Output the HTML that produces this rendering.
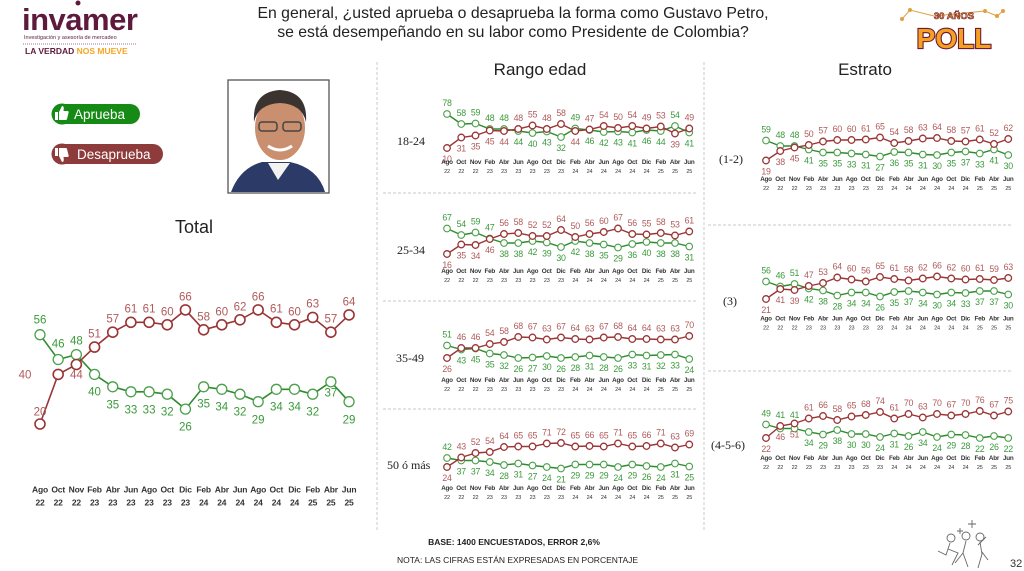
<!DOCTYPE html>
<html><head><meta charset="utf-8"><style>
html,body{margin:0;padding:0;background:#fff;}
svg{display:block;font-family:"Liberation Sans",sans-serif;}
.r{fill:#b05a5a}.g{fill:#3a9a3a}
.lb text{font-size:8.8px;text-anchor:middle;letter-spacing:-0.3px}
.ax text{font-size:6.3px;text-anchor:middle;fill:#333;font-weight:bold;letter-spacing:-0.2px}
.ax text.y{font-size:5.5px;font-weight:normal}
.rl{stroke:#9b3535;stroke-width:1.4;fill:none;marker-start:url(#mr);marker-mid:url(#mr);marker-end:url(#mr)}
.gl{stroke:#2e8b2e;stroke-width:1.4;fill:none;marker-start:url(#mg);marker-mid:url(#mg);marker-end:url(#mg)}
.rL{stroke:#9b3535;stroke-width:1.6;fill:none;marker-start:url(#mR);marker-mid:url(#mR);marker-end:url(#mR)}
.gL{stroke:#2e8b2e;stroke-width:1.6;fill:none;marker-start:url(#mG);marker-mid:url(#mG);marker-end:url(#mG)}
.tl text{font-size:11.5px;text-anchor:middle}
.rowl{font-family:"Liberation Serif",serif;font-size:12px;fill:#222}
.dash{stroke:#c8c8c8;stroke-width:1;stroke-dasharray:3 2}
</style></head><body>
<svg width="1024" height="571" viewBox="0 0 1024 571" xmlns="http://www.w3.org/2000/svg">
<defs>
<marker id="mr" markerWidth="10" markerHeight="10" refX="5" refY="5" markerUnits="userSpaceOnUse"><circle cx="5" cy="5" r="3.3" fill="#fff" stroke="#9b3535" stroke-width="1.3"/></marker>
<marker id="mg" markerWidth="10" markerHeight="10" refX="5" refY="5" markerUnits="userSpaceOnUse"><circle cx="5" cy="5" r="3.3" fill="#fff" stroke="#4aa04a" stroke-width="1.1"/></marker>
<marker id="mR" markerWidth="14" markerHeight="14" refX="7" refY="7" markerUnits="userSpaceOnUse"><circle cx="7" cy="7" r="5" fill="#fff" stroke="#9b3535" stroke-width="1.6"/></marker>
<marker id="mG" markerWidth="14" markerHeight="14" refX="7" refY="7" markerUnits="userSpaceOnUse"><circle cx="7" cy="7" r="5" fill="#fff" stroke="#4aa04a" stroke-width="1.3"/></marker>
<g id="axs" class="ax">
<text x="0" y="11">Ago</text><text x="14.25" y="11">Oct</text><text x="28.5" y="11">Nov</text><text x="42.75" y="11">Feb</text><text x="57" y="11">Abr</text><text x="71.25" y="11">Jun</text><text x="85.5" y="11">Ago</text><text x="99.75" y="11">Oct</text><text x="114" y="11">Dic</text><text x="128.25" y="11">Feb</text><text x="142.5" y="11">Abr</text><text x="156.75" y="11">Jun</text><text x="171" y="11">Ago</text><text x="185.25" y="11">Oct</text><text x="199.5" y="11">Dic</text><text x="213.75" y="11">Feb</text><text x="228" y="11">Abr</text><text x="242.25" y="11">Jun</text>
<text class="y" x="0" y="20">22</text><text class="y" x="14.25" y="20">22</text><text class="y" x="28.5" y="20">22</text><text class="y" x="42.75" y="20">23</text><text class="y" x="57" y="20">23</text><text class="y" x="71.25" y="20">23</text><text class="y" x="85.5" y="20">23</text><text class="y" x="99.75" y="20">23</text><text class="y" x="114" y="20">23</text><text class="y" x="128.25" y="20">24</text><text class="y" x="142.5" y="20">24</text><text class="y" x="156.75" y="20">24</text><text class="y" x="171" y="20">24</text><text class="y" x="185.25" y="20">24</text><text class="y" x="199.5" y="20">24</text><text class="y" x="213.75" y="20">25</text><text class="y" x="228" y="20">25</text><text class="y" x="242.25" y="20">25</text>
</g>
</defs>

<text x="22" y="30" font-size="31" font-weight="bold" fill="#5e1a3c" letter-spacing="-0.5">invamer</text>
<circle cx="78" cy="3" r="2.5" fill="#5e1a3c"/>
<text x="24" y="39" font-size="5.5" fill="#5e1a3c">Investigación y asesoría de mercadeo</text>
<line x1="23" y1="44" x2="137" y2="44" stroke="#8a4a6a" stroke-width="0.8" stroke-dasharray="1 1"/>
<text x="25" y="54" font-size="8.5" font-weight="bold" fill="#5e1a3c">LA VERDAD <tspan fill="#f5a623">NOS MUEVE</tspan></text>

<text x="513" y="18" font-size="15.8" text-anchor="middle" fill="#222">En general, ¿usted aprueba o desaprueba la forma como Gustavo Petro,</text>
<text x="513" y="37" font-size="15.8" text-anchor="middle" fill="#222">se está desempeñando en su labor como Presidente de Colombia?</text>

<polyline points="902,19 910,10 934,16 985,11 997,16 1003,11" fill="none" stroke="#e0a040" stroke-width="1"/>
<circle cx="902" cy="19" r="2" fill="#e0a040"/><circle cx="910" cy="10" r="2" fill="#e0a040"/><circle cx="985" cy="11" r="2" fill="#e0a040"/><circle cx="997" cy="16" r="2" fill="#e0a040"/><circle cx="1003" cy="11" r="2" fill="#e0a040"/>
<text x="954" y="19" font-size="9.5" font-weight="bold" text-anchor="middle" fill="#f5a020" stroke="#6a1b3a" stroke-width="0.6">30 AÑOS</text>
<text x="954" y="48" font-size="28" font-weight="bold" text-anchor="middle" fill="#f5a020" stroke="#6a1b3a" stroke-width="2.2" paint-order="stroke">POLL</text>

<rect x="52" y="104" width="88" height="20" rx="10" fill="#158a15"/>
<circle cx="62" cy="114" r="10.5" fill="#158a15"/>
<path d="M55 112h3v8h-3z M59 112l3-6c2 0 2 2 1.5 5h4c1 0 1.5 1 1 2l-1.5 6c-.3 1-1 1-2 1h-6z" fill="#fff"/>
<text x="74" y="119" font-size="13.5" fill="#fff">Aprueba</text>
<rect x="52" y="144" width="111" height="20" rx="10" fill="#8e3b3b"/>
<circle cx="62" cy="154" r="10.5" fill="#8e3b3b"/>
<path d="M55 148h3v8h-3z M59 156l3 6c2 0 2-2 1.5-5h4c1 0 1.5-1 1-2l-1.5-6c-.3-1-1-1-2-1h-6z" fill="#fff"/>
<text x="77" y="159" font-size="13.5" fill="#fff">Desaprueba</text>

<rect x="228" y="80" width="101" height="113" fill="#fff" stroke="#555" stroke-width="1.3"/>
<path d="M231 192 Q240 168 262 162 L290 162 Q318 168 325 192 Z" fill="#2b3a66"/>
<path d="M268 163 L278 180 L290 163 Z" fill="#f2f2f2"/>
<ellipse cx="280" cy="128" rx="25" ry="32" fill="#c98f6e"/>
<path d="M254 122 Q252 92 280 90 Q308 92 306 122 Q302 104 280 103 Q258 104 254 122 Z" fill="#3a3330"/>
<rect x="259" y="122" width="18" height="9" rx="3" fill="none" stroke="#444" stroke-width="1.5"/>
<rect x="283" y="122" width="18" height="9" rx="3" fill="none" stroke="#444" stroke-width="1.5"/>
<path d="M268 146 Q280 154 292 146" stroke="#fff" stroke-width="3" fill="none"/>

<text x="194" y="233" font-size="18" text-anchor="middle" fill="#222">Total</text>
<text x="540" y="75" font-size="17" text-anchor="middle" fill="#222">Rango edad</text>
<text x="865" y="75" font-size="17" text-anchor="middle" fill="#222">Estrato</text>

<line class="dash" x1="377" y1="62" x2="377" y2="532"/>
<line class="dash" x1="704" y1="62" x2="704" y2="532"/>
<line class="dash" x1="383" y1="193" x2="697" y2="193"/>
<line class="dash" x1="383" y1="301" x2="697" y2="301"/>
<line class="dash" x1="383" y1="409" x2="697" y2="409"/>
<line class="dash" x1="708" y1="225" x2="1012" y2="225"/>
<line class="dash" x1="708" y1="371" x2="1012" y2="371"/>

<g transform="translate(40,473.6)">
<polyline class="gL" points="0,-138.9 18.18,-114.1 36.36,-119 54.54,-99.2 72.72,-86.8 90.9,-81.8 109.08,-81.8 127.26,-79.4 145.44,-64.5 163.62,-86.8 181.8,-84.3 199.98,-79.4 218.16,-71.9 236.34,-84.3 254.52,-84.3 272.7,-79.4 290.88,-91.8 309.06,-71.9"/>
<polyline class="rL" points="0,-49.6 18.18,-99.2 36.36,-109.1 54.54,-126.5 72.72,-141.4 90.9,-151.3 109.08,-151.3 127.26,-148.8 145.44,-163.7 163.62,-143.8 181.8,-148.8 199.98,-153.8 218.16,-163.7 236.34,-151.3 254.52,-148.8 272.7,-156.2 290.88,-141.4 309.06,-158.7"/>
<g class="tl">
<text class="r" x="0" y="-58">20</text><text class="r" x="-15" y="-95">40</text><text class="r" x="36.36" y="-95">44</text><text class="r" x="54.54" y="-136">51</text><text class="r" x="72.72" y="-151">57</text><text class="r" x="90.9" y="-161">61</text><text class="r" x="109.08" y="-161">61</text><text class="r" x="127.26" y="-158">60</text><text class="r" x="145.44" y="-173">66</text><text class="r" x="163.62" y="-153">58</text><text class="r" x="181.8" y="-158">60</text><text class="r" x="199.98" y="-163">62</text><text class="r" x="218.16" y="-173">66</text><text class="r" x="236.34" y="-161">61</text><text class="r" x="254.52" y="-158">60</text><text class="r" x="272.7" y="-166">63</text><text class="r" x="290.88" y="-151">57</text><text class="r" x="309.06" y="-168">64</text>
<text class="g" x="0" y="-150">56</text><text class="g" x="18.18" y="-126">46</text><text class="g" x="36.36" y="-129">48</text><text class="g" x="54.54" y="-78">40</text><text class="g" x="72.72" y="-65">35</text><text class="g" x="90.9" y="-60">33</text><text class="g" x="109.08" y="-60">33</text><text class="g" x="127.26" y="-58">32</text><text class="g" x="145.44" y="-43">26</text><text class="g" x="163.62" y="-66">35</text><text class="g" x="181.8" y="-63">34</text><text class="g" x="199.98" y="-58">32</text><text class="g" x="218.16" y="-50">29</text><text class="g" x="236.34" y="-63">34</text><text class="g" x="254.52" y="-63">34</text><text class="g" x="272.7" y="-58">32</text><text class="g" x="290.88" y="-77">37</text><text class="g" x="309.06" y="-50">29</text>
</g>
<g class="ax">
<text x="0" y="19" style="font-size:8.5px">Ago</text><text x="18.18" y="19" style="font-size:8.5px">Oct</text><text x="36.36" y="19" style="font-size:8.5px">Nov</text><text x="54.54" y="19" style="font-size:8.5px">Feb</text><text x="72.72" y="19" style="font-size:8.5px">Abr</text><text x="90.9" y="19" style="font-size:8.5px">Jun</text><text x="109.08" y="19" style="font-size:8.5px">Ago</text><text x="127.26" y="19" style="font-size:8.5px">Oct</text><text x="145.44" y="19" style="font-size:8.5px">Dic</text><text x="163.62" y="19" style="font-size:8.5px">Feb</text><text x="181.8" y="19" style="font-size:8.5px">Abr</text><text x="199.98" y="19" style="font-size:8.5px">Jun</text><text x="218.16" y="19" style="font-size:8.5px">Ago</text><text x="236.34" y="19" style="font-size:8.5px">Oct</text><text x="254.52" y="19" style="font-size:8.5px">Dic</text><text x="272.7" y="19" style="font-size:8.5px">Feb</text><text x="290.88" y="19" style="font-size:8.5px">Abr</text><text x="309.06" y="19" style="font-size:8.5px">Jun</text>
<text x="0" y="32" style="font-size:8.5px">22</text><text x="18.18" y="32" style="font-size:8.5px">22</text><text x="36.36" y="32" style="font-size:8.5px">22</text><text x="54.54" y="32" style="font-size:8.5px">23</text><text x="72.72" y="32" style="font-size:8.5px">23</text><text x="90.9" y="32" style="font-size:8.5px">23</text><text x="109.08" y="32" style="font-size:8.5px">23</text><text x="127.26" y="32" style="font-size:8.5px">23</text><text x="145.44" y="32" style="font-size:8.5px">23</text><text x="163.62" y="32" style="font-size:8.5px">24</text><text x="181.8" y="32" style="font-size:8.5px">24</text><text x="199.98" y="32" style="font-size:8.5px">24</text><text x="218.16" y="32" style="font-size:8.5px">24</text><text x="236.34" y="32" style="font-size:8.5px">24</text><text x="254.52" y="32" style="font-size:8.5px">24</text><text x="272.7" y="32" style="font-size:8.5px">25</text><text x="290.88" y="32" style="font-size:8.5px">25</text><text x="309.06" y="32" style="font-size:8.5px">25</text>
</g>
</g>

<text class="rowl" x="397" y="145">18-24</text>
<text class="rowl" x="397" y="254">25-34</text>
<text class="rowl" x="396" y="362">35-49</text>
<text class="rowl" x="387" y="469">50 ó más</text>
<text class="rowl" x="719" y="163">(1-2)</text>
<text class="rowl" x="723" y="305">(3)</text>
<text class="rowl" x="711" y="449">(4-5-6)</text>

<g transform="translate(447,153)">
<polyline class="gl" points="0,-39 14.25,-29 28.5,-29.5 42.75,-24 57,-24 71.25,-22 85.5,-20 99.75,-21.5 114,-16 128.25,-24.5 142.5,-23 156.75,-21 171,-21.5 185.25,-20.5 199.5,-23 213.75,-22 228,-27 242.25,-20.5"/>
<polyline class="rl" points="0,-5 14.25,-15.5 28.5,-17.5 42.75,-22.5 57,-22 71.25,-24 85.5,-27.5 99.75,-24 114,-29 128.25,-22 142.5,-23.5 156.75,-27 171,-25 185.25,-27 199.5,-24.5 213.75,-26.5 228,-19.5 242.25,-24.5"/>
<g class="lb">
<text class="g" x="0" y="-47">78</text><text class="r" x="0" y="9">10</text>
<text class="g" x="14.25" y="-37">58</text><text class="r" x="14.25" y="-1.5">31</text>
<text class="g" x="28.5" y="-37.5">59</text><text class="r" x="28.5" y="-3.5">35</text>
<text class="g" x="42.75" y="-32">48</text><text class="r" x="42.75" y="-8.5">45</text>
<text class="g" x="57" y="-32">48</text><text class="r" x="57" y="-8">44</text>
<text class="r" x="71.25" y="-32">48</text><text class="g" x="71.25" y="-8">44</text>
<text class="r" x="85.5" y="-35.5">55</text><text class="g" x="85.5" y="-6">40</text>
<text class="r" x="99.75" y="-32">48</text><text class="g" x="99.75" y="-7.5">43</text>
<text class="r" x="114" y="-37">58</text><text class="g" x="114" y="-2">32</text>
<text class="g" x="128.25" y="-32.5">49</text><text class="r" x="128.25" y="-8">44</text>
<text class="r" x="142.5" y="-31.5">47</text><text class="g" x="142.5" y="-9">46</text>
<text class="r" x="156.75" y="-35">54</text><text class="g" x="156.75" y="-7">42</text>
<text class="r" x="171" y="-33">50</text><text class="g" x="171" y="-7.5">43</text>
<text class="r" x="185.25" y="-35">54</text><text class="g" x="185.25" y="-6.5">41</text>
<text class="r" x="199.5" y="-32.5">49</text><text class="g" x="199.5" y="-9">46</text>
<text class="r" x="213.75" y="-34.5">53</text><text class="g" x="213.75" y="-8">44</text>
<text class="g" x="228" y="-35">54</text><text class="r" x="228" y="-5.5">39</text>
<text class="r" x="242.25" y="-32.5">49</text><text class="g" x="242.25" y="-6.5">41</text>
</g>
<use href="#axs"/>
</g>

<g transform="translate(447,262)">
<polyline class="gl" points="0,-33.5 14.25,-27 28.5,-29.5 42.75,-23.5 57,-19 71.25,-19 85.5,-21 99.75,-19.5 114,-15 128.25,-21 142.5,-19 156.75,-17.5 171,-14.5 185.25,-18 199.5,-20 213.75,-19 228,-19 242.25,-15.5"/>
<polyline class="rl" points="0,-8 14.25,-17.5 28.5,-17 42.75,-23 57,-28 71.25,-29 85.5,-26 99.75,-26 114,-32 128.25,-25 142.5,-28 156.75,-30 171,-33.5 185.25,-28 199.5,-27.5 213.75,-29 228,-26.5 242.25,-30.5"/>
<g class="lb">
<text class="g" x="0" y="-41.5">67</text><text class="r" x="0" y="6">16</text>
<text class="g" x="14.25" y="-35">54</text><text class="r" x="14.25" y="-3.5">35</text>
<text class="g" x="28.5" y="-37.5">59</text><text class="r" x="28.5" y="-3">34</text>
<text class="g" x="42.75" y="-31.5">47</text><text class="r" x="42.75" y="-9">46</text>
<text class="r" x="57" y="-36">56</text><text class="g" x="57" y="-5">38</text>
<text class="r" x="71.25" y="-37">58</text><text class="g" x="71.25" y="-5">38</text>
<text class="r" x="85.5" y="-34">52</text><text class="g" x="85.5" y="-7">42</text>
<text class="r" x="99.75" y="-34">52</text><text class="g" x="99.75" y="-5.5">39</text>
<text class="r" x="114" y="-40">64</text><text class="g" x="114" y="-1">30</text>
<text class="r" x="128.25" y="-33">50</text><text class="g" x="128.25" y="-7">42</text>
<text class="r" x="142.5" y="-36">56</text><text class="g" x="142.5" y="-5">38</text>
<text class="r" x="156.75" y="-38">60</text><text class="g" x="156.75" y="-3.5">35</text>
<text class="r" x="171" y="-41.5">67</text><text class="g" x="171" y="-0.5">29</text>
<text class="r" x="185.25" y="-36">56</text><text class="g" x="185.25" y="-4">36</text>
<text class="r" x="199.5" y="-35.5">55</text><text class="g" x="199.5" y="-6">40</text>
<text class="r" x="213.75" y="-37">58</text><text class="g" x="213.75" y="-5">38</text>
<text class="r" x="228" y="-34.5">53</text><text class="g" x="228" y="-5">38</text>
<text class="r" x="242.25" y="-38.5">61</text><text class="g" x="242.25" y="-1.5">31</text>
</g>
<use href="#axs"/>
</g>

<g transform="translate(447,371)">
<polyline class="gl" points="0,-25.5 14.25,-21.5 28.5,-22.5 42.75,-17.5 57,-16 71.25,-13 85.5,-13.5 99.75,-15 114,-13 128.25,-14 142.5,-15.5 156.75,-14 171,-13 185.25,-16.5 199.5,-15.5 213.75,-16 228,-16.5 242.25,-12"/>
<polyline class="rl" points="0,-13 14.25,-23 28.5,-23 42.75,-27 57,-29 71.25,-34 85.5,-33.5 99.75,-31.5 114,-33.5 128.25,-32 142.5,-31.5 156.75,-33.5 171,-34 185.25,-32 199.5,-32 213.75,-31.5 228,-31.5 242.25,-35"/>
<g class="lb">
<text class="g" x="0" y="-33.5">51</text><text class="r" x="0" y="1">26</text>
<text class="r" x="14.25" y="-31">46</text><text class="g" x="14.25" y="-7.5">43</text>
<text class="r" x="28.5" y="-31">46</text><text class="g" x="28.5" y="-8.5">45</text>
<text class="r" x="42.75" y="-35">54</text><text class="g" x="42.75" y="-3.5">35</text>
<text class="r" x="57" y="-37">58</text><text class="g" x="57" y="-2">32</text>
<text class="r" x="71.25" y="-42">68</text><text class="g" x="71.25" y="1">26</text>
<text class="r" x="85.5" y="-41.5">67</text><text class="g" x="85.5" y="0.5">27</text>
<text class="r" x="99.75" y="-39.5">63</text><text class="g" x="99.75" y="-1">30</text>
<text class="r" x="114" y="-41.5">67</text><text class="g" x="114" y="1">26</text>
<text class="r" x="128.25" y="-40">64</text><text class="g" x="128.25" y="0">28</text>
<text class="r" x="142.5" y="-39.5">63</text><text class="g" x="142.5" y="-1.5">31</text>
<text class="r" x="156.75" y="-41.5">67</text><text class="g" x="156.75" y="0">28</text>
<text class="r" x="171" y="-42">68</text><text class="g" x="171" y="1">26</text>
<text class="r" x="185.25" y="-40">64</text><text class="g" x="185.25" y="-2.5">33</text>
<text class="r" x="199.5" y="-40">64</text><text class="g" x="199.5" y="-1.5">31</text>
<text class="r" x="213.75" y="-39.5">63</text><text class="g" x="213.75" y="-2">32</text>
<text class="r" x="228" y="-39.5">63</text><text class="g" x="228" y="-2.5">33</text>
<text class="r" x="242.25" y="-43">70</text><text class="g" x="242.25" y="2">24</text>
</g>
<use href="#axs"/>
</g>

<g transform="translate(447,479)">
<polyline class="gl" points="0,-21 14.25,-18.5 28.5,-18.5 42.75,-17 57,-14 71.25,-15.5 85.5,-13.5 99.75,-12 114,-10.5 128.25,-14.5 142.5,-14.5 156.75,-14.5 171,-12 185.25,-14.5 199.5,-13 213.75,-12 228,-15.5 242.25,-12.5"/>
<polyline class="rl" points="0,-12 14.25,-21.5 28.5,-26 42.75,-27 57,-32 71.25,-32.5 85.5,-32.5 99.75,-35.5 114,-36 128.25,-32.5 142.5,-33 156.75,-32.5 171,-35.5 185.25,-32.5 199.5,-33 213.75,-35.5 228,-31.5 242.25,-34.5"/>
<g class="lb">
<text class="g" x="0" y="-29">42</text><text class="r" x="0" y="2">24</text>
<text class="r" x="14.25" y="-29.5">43</text><text class="g" x="14.25" y="-4.5">37</text>
<text class="r" x="28.5" y="-34">52</text><text class="g" x="28.5" y="-4.5">37</text>
<text class="r" x="42.75" y="-35">54</text><text class="g" x="42.75" y="-3">34</text>
<text class="r" x="57" y="-40">64</text><text class="g" x="57" y="0">28</text>
<text class="r" x="71.25" y="-40.5">65</text><text class="g" x="71.25" y="-1.5">31</text>
<text class="r" x="85.5" y="-40.5">65</text><text class="g" x="85.5" y="0.5">27</text>
<text class="r" x="99.75" y="-43.5">71</text><text class="g" x="99.75" y="2">24</text>
<text class="r" x="114" y="-44">72</text><text class="g" x="114" y="3.5">21</text>
<text class="r" x="128.25" y="-40.5">65</text><text class="g" x="128.25" y="-0.5">29</text>
<text class="r" x="142.5" y="-41">66</text><text class="g" x="142.5" y="-0.5">29</text>
<text class="r" x="156.75" y="-40.5">65</text><text class="g" x="156.75" y="-0.5">29</text>
<text class="r" x="171" y="-43.5">71</text><text class="g" x="171" y="2">24</text>
<text class="r" x="185.25" y="-40.5">65</text><text class="g" x="185.25" y="-0.5">29</text>
<text class="r" x="199.5" y="-41">66</text><text class="g" x="199.5" y="1">26</text>
<text class="r" x="213.75" y="-43.5">71</text><text class="g" x="213.75" y="2">24</text>
<text class="r" x="228" y="-39.5">63</text><text class="g" x="228" y="-1.5">31</text>
<text class="r" x="242.25" y="-42.5">69</text><text class="g" x="242.25" y="1.5">25</text>
</g>
<use href="#axs"/>
</g>

<g transform="translate(766,170)">
<polyline class="gl" points="0,-29.5 14.25,-24 28.5,-24 42.75,-20.5 57,-17.5 71.25,-17.5 85.5,-16.5 99.75,-15.5 114,-13.5 128.25,-18 142.5,-17.5 156.75,-15.5 171,-15 185.25,-17.5 199.5,-18.5 213.75,-16.5 228,-20.5 242.25,-15"/>
<polyline class="rl" points="0,-9.5 14.25,-19 28.5,-22.5 42.75,-25 57,-28.5 71.25,-30 85.5,-30 99.75,-30.5 114,-32.5 128.25,-27 142.5,-29 156.75,-31.5 171,-32 185.25,-29 199.5,-28.5 213.75,-30.5 228,-26 242.25,-31"/>
<g class="lb">
<text class="g" x="0" y="-37.5">59</text><text class="r" x="0" y="4.5">19</text>
<text class="g" x="14.25" y="-32">48</text><text class="r" x="14.25" y="-5">38</text>
<text class="g" x="28.5" y="-32">48</text><text class="r" x="28.5" y="-8.5">45</text>
<text class="r" x="42.75" y="-33">50</text><text class="g" x="42.75" y="-6.5">41</text>
<text class="r" x="57" y="-36.5">57</text><text class="g" x="57" y="-3.5">35</text>
<text class="r" x="71.25" y="-38">60</text><text class="g" x="71.25" y="-3.5">35</text>
<text class="r" x="85.5" y="-38">60</text><text class="g" x="85.5" y="-2.5">33</text>
<text class="r" x="99.75" y="-38.5">61</text><text class="g" x="99.75" y="-1.5">31</text>
<text class="r" x="114" y="-40.5">65</text><text class="g" x="114" y="0.5">27</text>
<text class="r" x="128.25" y="-35">54</text><text class="g" x="128.25" y="-4">36</text>
<text class="r" x="142.5" y="-37">58</text><text class="g" x="142.5" y="-3.5">35</text>
<text class="r" x="156.75" y="-39.5">63</text><text class="g" x="156.75" y="-1.5">31</text>
<text class="r" x="171" y="-40">64</text><text class="g" x="171" y="-1">30</text>
<text class="r" x="185.25" y="-37">58</text><text class="g" x="185.25" y="-3.5">35</text>
<text class="r" x="199.5" y="-36.5">57</text><text class="g" x="199.5" y="-4.5">37</text>
<text class="r" x="213.75" y="-38.5">61</text><text class="g" x="213.75" y="-2.5">33</text>
<text class="r" x="228" y="-34">52</text><text class="g" x="228" y="-6.5">41</text>
<text class="r" x="242.25" y="-39">62</text><text class="g" x="242.25" y="-1">30</text>
</g>
<use href="#axs"/>
</g>

<g transform="translate(766,309.5)">
<polyline class="gl" points="0,-28 14.25,-23 28.5,-25.5 42.75,-21 57,-19 71.25,-14 85.5,-17 99.75,-17 114,-13 128.25,-17.5 142.5,-18.5 156.75,-17 171,-15 185.25,-17 199.5,-16.5 213.75,-18.5 228,-18.5 242.25,-15"/>
<polyline class="rl" points="0,-10.5 14.25,-20.5 28.5,-19.5 42.75,-23.5 57,-26.5 71.25,-32 85.5,-30 99.75,-28 114,-32.5 128.25,-30.5 142.5,-29 156.75,-31 171,-33 185.25,-31 199.5,-30 213.75,-30.5 228,-29.5 242.25,-31.5"/>
<g class="lb">
<text class="g" x="0" y="-36">56</text><text class="r" x="0" y="3.5">21</text>
<text class="g" x="14.25" y="-31">46</text><text class="r" x="14.25" y="-6.5">41</text>
<text class="g" x="28.5" y="-33.5">51</text><text class="r" x="28.5" y="-5.5">39</text>
<text class="r" x="42.75" y="-31.5">47</text><text class="g" x="42.75" y="-7">42</text>
<text class="r" x="57" y="-34.5">53</text><text class="g" x="57" y="-5">38</text>
<text class="r" x="71.25" y="-40">64</text><text class="g" x="71.25" y="0">28</text>
<text class="r" x="85.5" y="-38">60</text><text class="g" x="85.5" y="-3">34</text>
<text class="r" x="99.75" y="-36">56</text><text class="g" x="99.75" y="-3">34</text>
<text class="r" x="114" y="-40.5">65</text><text class="g" x="114" y="1">26</text>
<text class="r" x="128.25" y="-38.5">61</text><text class="g" x="128.25" y="-3.5">35</text>
<text class="r" x="142.5" y="-37">58</text><text class="g" x="142.5" y="-4.5">37</text>
<text class="r" x="156.75" y="-39">62</text><text class="g" x="156.75" y="-3">34</text>
<text class="r" x="171" y="-41">66</text><text class="g" x="171" y="-1">30</text>
<text class="r" x="185.25" y="-39">62</text><text class="g" x="185.25" y="-3">34</text>
<text class="r" x="199.5" y="-38">60</text><text class="g" x="199.5" y="-2.5">33</text>
<text class="r" x="213.75" y="-38.5">61</text><text class="g" x="213.75" y="-4.5">37</text>
<text class="r" x="228" y="-37.5">59</text><text class="g" x="228" y="-4.5">37</text>
<text class="r" x="242.25" y="-39.5">63</text><text class="g" x="242.25" y="-1">30</text>
</g>
<use href="#axs"/>
</g>

<g transform="translate(766,449)">
<polyline class="gl" points="0,-24.5 14.25,-20.5 28.5,-20.5 42.75,-17 57,-14.5 71.25,-19 85.5,-15 99.75,-15 114,-12 128.25,-15.5 142.5,-13 156.75,-17 171,-12 185.25,-14.5 199.5,-14 213.75,-11 228,-13 242.25,-11"/>
<polyline class="rl" points="0,-11 14.25,-23 28.5,-25.5 42.75,-30.5 57,-33 71.25,-29 85.5,-32.5 99.75,-34 114,-37 128.25,-30.5 142.5,-35 156.75,-31.5 171,-35 185.25,-33.5 199.5,-35 213.75,-38 228,-33.5 242.25,-37.5"/>
<g class="lb">
<text class="g" x="0" y="-32.5">49</text><text class="r" x="0" y="3">22</text>
<text class="g" x="14.25" y="-31">41</text><text class="r" x="14.25" y="-9">46</text>
<text class="g" x="28.5" y="-31">41</text><text class="r" x="28.5" y="-11.5">51</text>
<text class="r" x="42.75" y="-38.5">61</text><text class="g" x="42.75" y="-3">34</text>
<text class="r" x="57" y="-41">66</text><text class="g" x="57" y="-0.5">29</text>
<text class="r" x="71.25" y="-37">58</text><text class="g" x="71.25" y="-5">38</text>
<text class="r" x="85.5" y="-40.5">65</text><text class="g" x="85.5" y="-1">30</text>
<text class="r" x="99.75" y="-42">68</text><text class="g" x="99.75" y="-1">30</text>
<text class="r" x="114" y="-45">74</text><text class="g" x="114" y="2">24</text>
<text class="r" x="128.25" y="-38.5">61</text><text class="g" x="128.25" y="-1.5">31</text>
<text class="r" x="142.5" y="-43">70</text><text class="g" x="142.5" y="1">26</text>
<text class="r" x="156.75" y="-39.5">63</text><text class="g" x="156.75" y="-3">34</text>
<text class="r" x="171" y="-43">70</text><text class="g" x="171" y="2">24</text>
<text class="r" x="185.25" y="-41.5">67</text><text class="g" x="185.25" y="-0.5">29</text>
<text class="r" x="199.5" y="-43">70</text><text class="g" x="199.5" y="0">28</text>
<text class="r" x="213.75" y="-46">76</text><text class="g" x="213.75" y="3">22</text>
<text class="r" x="228" y="-41.5">67</text><text class="g" x="228" y="1">26</text>
<text class="r" x="242.25" y="-45.5">75</text><text class="g" x="242.25" y="3">22</text>
</g>
<use href="#axs"/>
</g>

<text x="514" y="545" font-size="8.5" font-weight="bold" text-anchor="middle" fill="#222">BASE: 1400 ENCUESTADOS, ERROR 2,6%</text>
<text x="397" y="563" font-size="8.5" fill="#222">NOTA: LAS CIFRAS ESTÁN EXPRESADAS EN PORCENTAJE</text>
<text x="1010" y="567" font-size="11" fill="#333">32</text>
<g fill="none" stroke="#666" stroke-width="0.9">
<path d="M972 520 v8 M968 524 h8 M960 528 v6 M957 531 h6"/>
<circle cx="951" cy="538" r="4"/><circle cx="966" cy="536" r="4"/><circle cx="980" cy="537" r="4"/>
<path d="M950 543 l-4 12 l-8 -4 M948 549 l10 4 l-6 12 M966 541 l-3 12 l5 14 M963 553 l-8 10 M980 542 l2 12 l-4 14 M982 552 l6 8 M978 545 l8 -8"/>
</g>
</svg>
</body></html>
